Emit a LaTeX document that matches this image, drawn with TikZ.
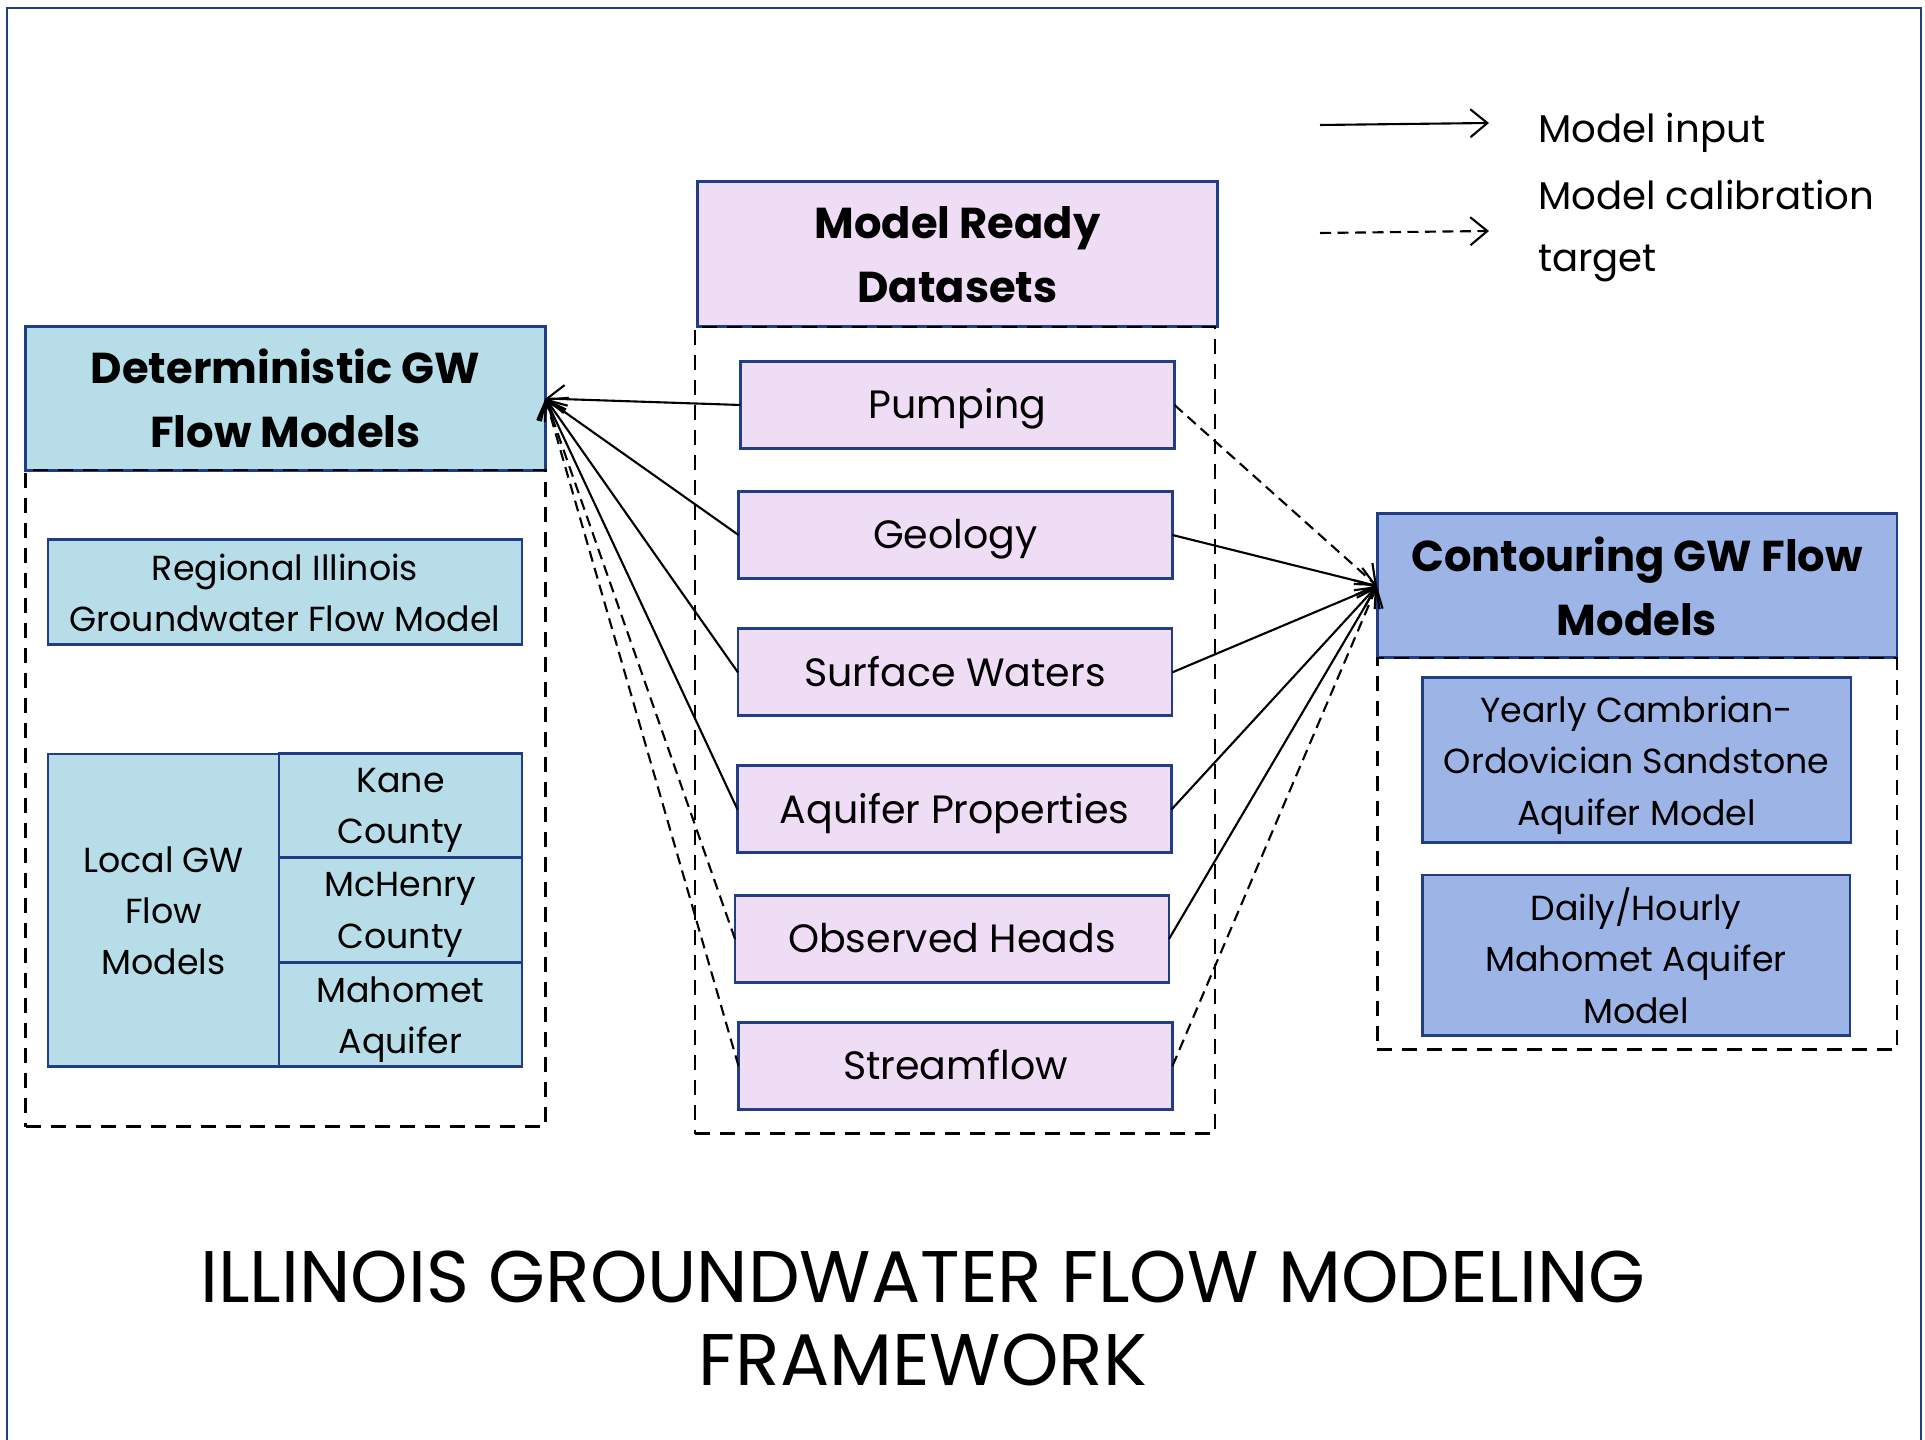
\documentclass[tikz,border=0pt]{standalone}
\usepackage{fontspec}
\setmainfont{Poppins}
\usetikzlibrary{arrows.meta}
\definecolor{gwblue}{HTML}{B7DDE8}
\definecolor{dslilac}{HTML}{EEDDF5}
\definecolor{ctblue}{HTML}{9DB4E6}
\definecolor{boxline}{HTML}{203D85}

\begin{document}
\begin{tikzpicture}[x=0.1mm,y=-0.1mm,inner sep=0pt,outer sep=0pt,
>={Straight Barb[length=1.7mm,width=2.8mm]},
headbox/.style={draw=boxline,rectangle,line width=0.85pt,minimum width=52mm,minimum height=14.4mm,align=center,font=\fontsize{12.3}{18.2}\selectfont\bfseries},
groupbox/.style={draw,rectangle,line width=0.85pt,dash pattern=on 1.5mm off 1mm,minimum width=52mm},
databox/.style={draw=boxline,fill=dslilac,rectangle,line width=0.85pt,minimum width=43.4mm,minimum height=8.7mm,text height=2.75mm,text depth=0pt,font=\fontsize{11.25}{14}\selectfont},
modelbox/.style={draw=boxline,rectangle,line width=0.85pt,align=center,text depth=0pt,font=\fontsize{9.9}{14.6}\selectfont},
input/.style={->,line width=0.6pt},
target/.style={->,line width=0.6pt,dash pattern=on 1.1mm off 0.65mm}]

\useasboundingbox (0,0) rectangle (1925,1440);
\draw[boxline,line width=0.6pt] (7,1440) -- (7,8) -- (1921,8) -- (1921,1440);

% deterministic models
\draw (285.5,398.5) node[headbox,fill=gwblue] (det) {Deterministic GW\\Flow Models};
\draw (285.5,798.5) node[groupbox,minimum height=65.7mm] (detgroup) {};
\draw (285,592.5) node[modelbox,fill=gwblue,minimum width=47.4mm,minimum height=10.5mm] (regional) {Regional Illinois\\Groundwater Flow Model};
\draw (163.5,910.5) node[modelbox,fill=gwblue,minimum width=23.1mm,minimum height=31.3mm] (local) {Local GW\\Flow\\Models};
\draw (400.5,806) node[modelbox,fill=gwblue,minimum width=24.3mm,minimum height=10.4mm] (kane) {Kane\\County};
\draw (400.5,910.5) node[modelbox,fill=gwblue,minimum width=24.3mm,minimum height=10.5mm] (mchenry) {McHenry\\County};
\draw (400.5,1015) node[modelbox,fill=gwblue,minimum width=24.3mm,minimum height=10.4mm] (mahomet) {Mahomet\\Aquifer};

% datasets
\draw (957.5,254.5) node[headbox,fill=dslilac,minimum height=14.5mm] (data) {Model Ready\\Datasets};
\draw (955,730.5) node[groupbox,minimum height=80.7mm] (datagroup) {};
\draw (957.5,405) node[databox] (pump) {Pumping};
\draw (955.5,535) node[databox] (geo) {Geology};
\draw (955,672.5) node[databox] (surf) {Surface Waters};
\draw (954.5,809.5) node[databox] (aqui) {Aquifer Properties};
\draw (952,939) node[databox] (heads) {Observed Heads};
\draw (955.5,1066) node[databox] (flow) {Streamflow};

% contouring models
\draw (1637,586) node[headbox,fill=ctblue] (cont) {Contouring GW Flow\\Models};
\draw (1637,854) node[groupbox,minimum height=39.2mm] (contgroup) {};
\draw (1636.5,760.5) node[modelbox,fill=ctblue,minimum width=42.9mm,minimum height=16.5mm] (yearly) {Yearly Cambrian-\\Ordovician Sandstone\\Aquifer Model};
\draw (1636,955.5) node[modelbox,fill=ctblue,minimum width=42.8mm,minimum height=16.1mm] (daily) {Daily/Hourly\\Mahomet Aquifer\\Model};

% inputs and targets
\draw[input] (pump.west) -- (det.east);
\draw[input] (geo.west) -- (det.east);
\draw[input] (surf.west) -- (det.east);
\draw[input] (aqui.west) -- (det.east);
\draw[target] (heads.west) -- (det.east);
\draw[target] (flow.west) -- (det.east);
\draw[target] (pump.east) -- (cont.west);
\draw[input] (geo.east) -- (cont.west);
\draw[input] (surf.east) -- (cont.west);
\draw[input] (aqui.east) -- (cont.west);
\draw[input] (heads.east) -- (cont.west);
\draw[target] (flow.east) -- (cont.west);

% legend
\coordinate (inputA) at (1320,125);
\coordinate (inputB) at (1489,123);
\coordinate (targetA) at (1320,233);
\coordinate (targetB) at (1489,231);
\draw[input] (inputA) -- (inputB);
\draw[target] (targetA) -- (targetB);
\draw (1538,132.5) node[anchor=west,font=\fontsize{11}{17.4}\selectfont] (inputtext) {Model input};
\draw (1538,231) node[anchor=west,align=left,font=\fontsize{11}{17.4}\selectfont] (targettext) {Model calibration\\target};

% title
\draw (923,1318) node[align=center,font=\fontsize{20.8}{23.6}\selectfont] (title) {ILLINOIS GROUNDWATER FLOW MODELING\\FRAMEWORK};
\end{tikzpicture}
\end{document}
